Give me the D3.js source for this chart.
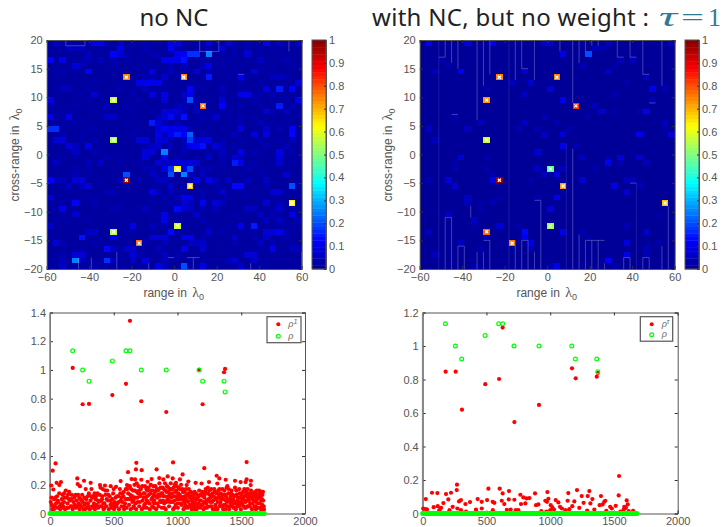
<!DOCTYPE html>
<html>
<head>
<meta charset="utf-8">
<script src="https://cdnjs.cloudflare.com/ajax/libs/d3/7.8.5/d3.min.js"></script>
<style>
  html, body { margin: 0; padding: 0; background: #fff; }
  text { font-family: "Liberation Sans", Arial, sans-serif; }
</style>
</head>
<body>
<div id="chart"></div>
<script>
'use strict';

// image cells: 40 x 40, the twelve targets are listed apart
var targets = [[12,6],[21,6],[24,11],[10,10],[10,17],[20,22],[12,24],[22,25],[38,28],[20,32],[10,33],[14,35]];
var noNcTargets = [0.75,0.74,0.77,0.57,0.55,0.62,0.98,0.68,0.63,0.58,0.55,0.77];
var withNcTargets = [0.75,0.75,0.83,0.73,0.58,0.47,0.98,0.72,0.68,0.53,0.78,0.76];

// per row: col, percent, col, percent ...  everything else sits on the base level
var noNcBase = 2;
var noNcRows = [
  [1,6,2,4,3,3,6,3,7,10,8,10,9,4,11,5,13,4,15,3,17,3,19,9,20,10,21,3,23,3,25,8,26,3,28,8,29,4,31,3,34,10,36,6,37,3,39,7],
  [3,5,4,5,5,5,8,3,11,10,13,3,15,4,19,12,20,4,23,3,25,4,27,8,29,3,31,4,33,3,35,3],
  [6,5,10,12,11,8,12,4,16,4,17,4,20,10,21,12,22,17,23,17,25,25,27,3,29,4,31,8,33,3,36,3],
  [0,12,2,10,5,4,6,5,8,5,10,4,12,3,14,3,18,10,19,10,20,10,21,14,24,3,28,3,33,6,37,4],
  [4,8,5,4,10,3,15,3,19,4,21,5,24,5,25,10,27,3,30,3,33,3,35,3,38,3],
  [1,3,2,3,6,12,16,10,19,6,21,3,23,8,25,3,29,3,32,8,34,3],
  [15,4,16,4,18,7,20,3,25,15,28,3,30,10,31,3,35,5,36,5,37,4],
  [7,3,14,10,15,10,16,10,17,10,18,4,25,3,30,4,33,3,39,8],
  [2,5,3,5,6,4,11,4,13,3,15,5,17,3,22,12,24,3,27,5,34,9,36,15,38,12],
  [5,3,7,8,13,3,16,10,18,10,21,7,22,10,27,4,30,10,31,10,33,4,35,4],
  [0,10,6,3,14,4,18,8,21,4,22,20,23,3,27,8,32,4,35,3,37,3,39,10],
  [0,4,4,3,9,5,12,4,18,3,20,5,21,5,23,4,27,12,30,4,33,3,36,15,38,4],
  [2,3,7,3,9,3,13,3,18,8,19,8,20,8,21,4,23,6,25,3,28,3,34,8,35,4,37,6],
  [0,10,3,10,9,6,10,6,13,3,17,5,18,7,19,13,20,5,21,14,24,4,26,7,30,4,32,3],
  [3,3,4,3,5,3,12,3,16,15,17,8,18,5,20,4,23,3,28,3,30,3,33,5,35,3,37,3],
  [0,17,1,17,6,3,7,3,14,3,17,8,18,12,19,10,20,10,21,10,22,4,25,3,30,9,34,7,36,4,38,12],
  [2,4,5,3,13,4,17,10,18,5,19,10,20,15,21,12,22,22,24,4,29,5,32,9,34,9,38,13],
  [1,8,2,8,5,3,7,4,14,8,15,8,17,8,18,8,19,4,21,5,22,18,23,8,24,8,25,10,27,4,30,3,33,4,36,3,38,5],
  [3,8,4,5,6,10,15,4,16,6,17,7,19,5,21,5,22,10,23,12,24,14,26,8,27,5,29,4,34,4,37,5],
  [4,6,7,4,15,8,16,8,18,25,21,4,25,3,27,6,30,10,32,4,36,10,38,4],
  [2,3,9,4,11,3,15,8,18,10,20,4,23,3,25,7,27,4,29,8,30,6,33,3,36,8],
  [1,6,6,5,8,6,11,3,14,3,17,8,18,6,19,6,20,8,21,8,22,8,23,8,27,4,29,15,30,10,32,3,36,7,38,3],
  [4,3,6,3,15,4,16,4,18,10,19,17,21,10,22,20,24,4,25,4,27,3,31,4,33,3],
  [4,4,6,3,12,20,16,6,17,4,19,20,21,25,22,6,24,6,30,3,33,3,37,8],
  [0,12,1,5,2,5,4,8,5,8,8,3,11,5,14,4,17,6,18,6,23,10,25,10,26,5,28,6,31,5,34,6],
  [3,6,5,6,6,8,12,3,16,3,19,7,21,3,26,4,29,13,30,13,34,4,38,20],
  [9,4,10,4,16,10,17,5,19,5,21,3,24,4,27,7,31,3,35,7,36,7],
  [0,8,6,3,18,4,20,5,21,10,22,10,24,3,28,3,33,3],
  [2,3,4,12,7,4,11,3,16,3,19,4,21,8,22,5,24,12,26,8,27,5,34,8,36,4],
  [1,3,2,10,10,4,11,3,15,5,20,13,21,7,22,6,24,4,26,5,31,6,32,5,35,3,36,7],
  [2,3,4,7,13,3,16,3,18,10,20,3,23,7,29,3,33,6,35,4,38,10],
  [1,3,6,3,12,3,18,10,24,4,30,3,34,6,36,6,39,4],
  [0,7,13,10,16,5,18,4,21,4,25,3,28,3,30,10,32,15,36,3,38,3],
  [6,6,7,6,12,3,19,13,20,4,25,7,27,4,31,3,34,8,35,8,36,10,37,4],
  [1,3,5,14,10,10,16,8,17,8,18,8,21,10,22,10,24,4,29,7,32,4,34,7,37,4],
  [1,8,2,3,7,3,15,4,18,5,22,6,23,5,24,7,29,4,33,6,35,4,38,3],
  [5,3,9,13,10,6,12,7,13,7,17,5,21,10,24,8,27,3,33,3,35,10,38,5,39,5],
  [2,4,4,8,5,8,11,3,13,8,14,4,18,6,20,4,31,8,32,8,35,3],
  [2,5,4,25,5,5,9,17,10,5,13,6,15,8,18,4,19,3,24,3,28,5,29,8,32,7],
  [2,7,4,3,7,4,9,3,15,3,17,10,18,5,21,20,24,10,30,7,33,3]
];

var withNcBase = 1;
var withNcRows = [
  [1,10,7,9,11,10,19,7,20,7,29,6,39,6],
  [27,5,28,4],
  [22,9,26,20],
  [3,3,31,4,33,5],
  [4,3,25,4,30,3],
  [2,5,6,10,16,7,29,6],
  [35,5],
  [14,5,17,7,32,3],
  [10,3,20,8,36,10,38,4],
  [16,6,30,4],
  [22,10,36,4],
  [27,5],
  [28,7,30,3,34,3,35,11],
  [5,4,19,4,26,3],
  [9,5,16,6,21,3,38,5],
  [1,6,7,5,15,4,18,3,23,3,38,3],
  [19,6,22,8,34,10,39,8],
  [2,5],
  [22,10,24,4],
  [18,7],
  [6,8,10,3,25,6,29,4,31,8,34,7],
  [5,3,29,10,31,4,35,5],
  [5,3,10,3,18,6,22,5,27,3],
  [11,3,19,6,21,10],
  [1,4,4,8,11,10,17,3,25,8,32,5,33,5],
  [5,8,30,10,34,4],
  [22,3,32,7],
  [7,6,12,3,18,3,21,10],
  [7,5,9,3,11,4],
  [9,3,20,8],
  [4,6,37,3],
  [8,6],
  [8,3,12,7,15,3,32,4],
  [1,5,16,13,22,10,25,3,35,7],
  [10,5,16,10,26,3],
  [6,6,17,9,32,9,37,3],
  [9,3,17,5,35,5],
  [2,5,32,10,35,4],
  [29,12],
  [8,4,20,3,21,10,30,3]
];

// faint seams in the images, col and row edges: x1, y1, x2, y2
var noNcSeams = [
  [3,0,3,1],[3,1,6,1],[6,0,6,1],[24,0,24,2],[24,2,27,2],[27,0,27,2],[38,0,38,2],[30,6,31,6],
  [5,38,5,40],[7,38,7,40],[11,37,11,40],[16,39,16,40],[19,38,20,38],[22,38,24,38],[23,38,23,40],[32,39,32,40],[40,37,40,40]
];
var withNcSeams = [
  [4,0,4,3],[3,3,4,3],[5,0,5,4],[6,0,6,5],[9,0,9,14],[10,0,10,8],[11,0,11,6],[15,0,15,7],[16,0,16,5],[16,5,17,5],
  [18,0,18,7],[22,0,22,2],[24,0,24,11],[25,0,25,4],[26,0,26,2],[27,0,27,1],[28,0,28,1],[31,0,31,3],[31,3,32,3],
  [33,0,33,3],[33,3,34,3],[35,0,35,6],[35,6,36,6],[38,0,38,8],[5,13,6,13],[36,11,37,11],
  [4,31,4,40],[5,31,5,40],[4,31,5,31],[6,36,6,40],[7,36,7,40],[6,36,7,36],[9,37,9,40],[10,37,10,40],
  [10,35,11,35],[11,35,11,40],[15,35,15,40],[16,35,16,40],[17,35,17,40],[16,35,17,35],[18,37,18,40],
  [19,28,19,40],[18,28,19,28],[24,19,24,40],[25,34,25,40],[26,35,26,40],[27,35,27,40],[28,35,28,40],[26,35,29,35],
  [29,39,29,40],[32,38,32,40],[33,38,33,40],[32,38,33,38],[35,38,35,40],[36,38,36,40],[35,38,36,38],
  [38,36,38,40],[39,29,39,40],[8,29,8,31],[33,25,34,25]
];
var withNcFaintSeams = [[3,0,3,40],[14,0,14,40],[23,18,23,40],[34,25,34,40]];

// lower scatter, index and value
var rhoOne = [
  [178,1.014],[256,0.761],[306,0.763],[489,0.825],[596,0.903],[627,1.342],[716,0.782],[912,0.707],[1169,1.0],[1197,0.761],[1365,0.984],[1373,1.007],
  [44,0.349],[21,0.298],[10,0.195],[26,0.167],[52,0.214],[86,0.219],[73,0.198],[214,0.244],[217,0.205],[235,0.19],[267,0.228],[319,0.214],[392,0.198],
  [431,0.195],[476,0.19],[518,0.186],[554,0.226],[612,0.288],[640,0.24],[604,0.198],[667,0.237],[677,0.353],[674,0.307],[719,0.302],[716,0.235],[836,0.307],
  [766,0.221],[797,0.24],[857,0.247],[889,0.237],[923,0.258],[965,0.356],[962,0.244],[988,0.214],[1040,0.272],[1019,0.237],[1085,0.223],[1072,0.198],[1142,0.214],
  [1189,0.209],[1210,0.316],[1247,0.219],[1307,0.263],[1328,0.244],[1312,0.209],[1378,0.235],[1391,0.19],[1451,0.228],[1495,0.219],[1534,0.219],[1542,0.358],[1542,0.237],[1576,0.228],[1574,0.198],
  [6,0.08],[14,0.06],[20,0.03],[31,0.1],[38,0.05],[47,0.07],[55,0.12],[60,0.04],[66,0.08],[72,0.14],[80,0.03],[84,0.06],[92,0.1],[98,0.13],[104,0.05],[110,0.08],[118,0.03],[124,0.16],[130,0.11],[137,0.07],[143,0.04],[150,0.15],[156,0.09],[163,0.05],[170,0.13],[177,0.03],[183,0.08],[190,0.11],[196,0.06],
  [203,0.04],[209,0.09],[220,0.13],[226,0.07],[232,0.03],[240,0.1],[246,0.05],[252,0.13],[258,0.08],[264,0.03],[272,0.06],[280,0.17],[285,0.1],[291,0.04],[298,0.07],[305,0.14],[312,0.03],[318,0.09],[325,0.17],[331,0.05],[338,0.12],[345,0.07],[352,0.03],[358,0.1],[365,0.06],[372,0.14],[378,0.04],[384,0.08],[390,0.13],[396,0.18],
  [402,0.05],[408,0.1],[414,0.17],[420,0.03],[427,0.07],[435,0.13],[441,0.05],[448,0.16],[455,0.09],[461,0.03],[468,0.12],[474,0.06],[482,0.04],[488,0.1],[495,0.14],[502,0.03],[508,0.08],[514,0.11],[521,0.05],[528,0.07],[535,0.12],[541,0.03],[548,0.17],[555,0.09],[562,0.05],[568,0.14],[575,0.12],[581,0.03],[588,0.07],[594,0.17],
  [601,0.04],[607,0.1],[613,0.14],[620,0.06],[626,0.19],[632,0.03],[638,0.12],[645,0.08],[651,0.16],[657,0.05],[663,0.2],[669,0.11],[676,0.03],[682,0.15],[688,0.08],[694,0.19],[700,0.05],[707,0.12],[713,0.17],[720,0.03],[726,0.09],[732,0.14],[739,0.06],[745,0.19],[751,0.11],[758,0.04],[764,0.16],[770,0.08],[776,0.13],[783,0.03],[790,0.2],[796,0.1],
  [802,0.05],[808,0.16],[814,0.13],[820,0.07],[827,0.19],[833,0.03],[840,0.11],[846,0.16],[852,0.05],[858,0.21],[864,0.09],[871,0.14],[877,0.04],[884,0.18],[890,0.12],[896,0.07],[902,0.21],[908,0.03],[915,0.15],[921,0.1],[928,0.18],[934,0.05],[940,0.13],[947,0.21],[953,0.08],[960,0.17],[966,0.03],[972,0.12],[978,0.2],[985,0.06],[991,0.16],[997,0.1],
  [1003,0.04],[1009,0.18],[1016,0.13],[1022,0.07],[1028,0.2],[1035,0.1],[1041,0.15],[1047,0.03],[1054,0.12],[1060,0.06],[1066,0.17],[1073,0.09],[1079,0.04],[1086,0.14],[1092,0.11],[1099,0.06],[1105,0.15],[1111,0.03],[1118,0.1],[1124,0.13],[1131,0.05],[1137,0.08],[1144,0.14],[1150,0.03],[1156,0.11],[1163,0.07],[1170,0.16],[1177,0.04],[1183,0.09],[1190,0.13],[1197,0.06],
  [1204,0.03],[1211,0.11],[1217,0.15],[1224,0.07],[1231,0.04],[1238,0.18],[1244,0.1],[1251,0.13],[1258,0.05],[1264,0.17],[1271,0.08],[1277,0.03],[1284,0.12],[1291,0.15],[1298,0.06],[1305,0.1],[1312,0.03],[1319,0.16],[1325,0.13],[1332,0.05],[1338,0.08],[1345,0.11],[1352,0.17],[1358,0.03],[1365,0.06],[1371,0.13],[1378,0.09],[1385,0.18],[1392,0.05],[1398,0.14],
  [1405,0.03],[1411,0.08],[1418,0.12],[1424,0.16],[1431,0.05],[1437,0.1],[1444,0.07],[1451,0.18],[1457,0.03],[1464,0.13],[1471,0.09],[1477,0.05],[1484,0.17],[1490,0.11],[1497,0.03],[1504,0.14],[1510,0.07],[1517,0.1],[1524,0.17],[1530,0.04],[1537,0.13],[1543,0.09],[1550,0.17],[1556,0.05],[1563,0.12],[1570,0.07],[1577,0.16],[1584,0.03],[1590,0.1],[1597,0.14],
  [1603,0.05],[1610,0.15],[1616,0.08],[1622,0.16],[1628,0.04],[1634,0.13],[1640,0.16],[1646,0.07],[1650,0.12],[1654,0.03],[1660,0.15],[1662,0.1],[1664,0.06],[1666,0.13],[1668,0.04],[1670,0.15],[1672,0.09],[1674,0.02],[1676,0.05],[1678,0.03],
  [110,0.14],[150,0.1],[195,0.12],[330,0.11],[410,0.12],[500,0.06],[560,0.11],[640,0.1],[700,0.14],[760,0.09],[810,0.08],[870,0.08],[930,0.09],[1000,0.12],[1060,0.1],[1120,0.07],[1200,0.12],[1270,0.13],[1340,0.14],[1420,0.07],[1500,0.08],[1560,0.09],[1620,0.11],
  [12,0.11],[24,0.05],[41,0.11],[58,0.09],[76,0.05],[96,0.07],[114,0.11],[133,0.04],[141,0.13],[167,0.1],[186,0.05],[201,0.13],[229,0.11],[238,0.06],[249,0.09],[269,0.11],[283,0.07],[295,0.12],[303,0.05],[322,0.12],[340,0.04],[349,0.14],[361,0.12],[375,0.09],[388,0.05],[399,0.09],[418,0.07],[433,0.16],[445,0.1],[458,0.13],[472,0.09],[486,0.07],[499,0.17],[512,0.05],[526,0.12],[539,0.08],[551,0.14],[566,0.08],[579,0.15],[592,0.1],
  [605,0.17],[618,0.1],[629,0.13],[636,0.17],[648,0.12],[655,0.09],[666,0.16],[671,0.07],[680,0.21],[685,0.11],[692,0.14],[698,0.16],[705,0.08],[711,0.13],[724,0.19],[735,0.11],[742,0.14],[749,0.07],[755,0.17],[762,0.12],[773,0.18],[780,0.07],[787,0.14],[793,0.16],[805,0.11],[811,0.19],[817,0.09],[824,0.15],[830,0.12],[837,0.17],[843,0.07],[849,0.13],[855,0.17],[861,0.12],[868,0.18],[874,0.08],[881,0.14],[887,0.09],[893,0.17],[899,0.12],[905,0.16],[912,0.08],[918,0.19],[925,0.12],[931,0.15],[937,0.08],[944,0.17],[950,0.11],[957,0.14],[963,0.08],[969,0.18],[975,0.09],[982,0.15],[988,0.12],[994,0.19],[1000,0.07],
  [1006,0.14],[1012,0.1],[1019,0.17],[1025,0.12],[1032,0.06],[1038,0.17],[1044,0.11],[1051,0.08],[1057,0.15],[1063,0.12],[1070,0.05],[1076,0.13],[1083,0.08],[1089,0.17],[1095,0.05],[1102,0.12],[1108,0.09],[1115,0.14],[1121,0.05],[1128,0.11],[1134,0.15],[1141,0.06],[1147,0.1],[1153,0.13],[1160,0.05],[1167,0.12],[1173,0.09],[1180,0.13],[1186,0.06],[1193,0.15],[1207,0.08],[1214,0.13],[1221,0.17],[1228,0.09],[1235,0.05],[1241,0.14],[1248,0.16],[1255,0.08],[1261,0.11],[1268,0.05],[1274,0.14],[1281,0.09],[1288,0.17],[1295,0.11],[1301,0.04],[1308,0.14],[1315,0.08],[1322,0.11],[1329,0.17],[1335,0.06],[1342,0.1],[1349,0.05],[1355,0.13],[1362,0.1],[1368,0.16],[1375,0.06],[1381,0.12],[1388,0.08],[1395,0.1],
  [1402,0.17],[1408,0.05],[1415,0.1],[1421,0.14],[1428,0.08],[1434,0.13],[1441,0.04],[1448,0.12],[1454,0.08],[1461,0.16],[1468,0.06],[1474,0.11],[1481,0.08],[1487,0.14],[1494,0.06],[1501,0.12],[1507,0.1],[1514,0.15],[1520,0.05],[1527,0.12],[1534,0.08],[1540,0.15],[1547,0.05],[1553,0.11],[1560,0.14],[1566,0.05],[1573,0.11],[1580,0.14],[1587,0.07],[1593,0.12],[1600,0.09],[1606,0.12],[1613,0.05],[1619,0.13],[1625,0.1],[1631,0.07],[1637,0.11],[1643,0.14],[1648,0.04],[1657,0.09],
  [30,0.03],[90,0.04],[170,0.05],[215,0.05],[275,0.03],[355,0.05],[425,0.04],[505,0.04],[585,0.05],[655,0.04],[735,0.04],[815,0.04],[895,0.04],[975,0.04],[1055,0.04],[1135,0.03],[1215,0.04],[1295,0.03],[1375,0.03],[1455,0.04],[1535,0.04],[1615,0.03]
];
var rhoTau = [
  [180,0.847],[259,0.847],[308,0.62],[491,0.772],[599,0.803],[627,1.11],[719,0.546],[912,0.648],[1171,0.867],[1200,0.807],[1365,0.817],[1375,0.84],
  [24,0.086],[4,0.03],[24,0.026],[34,0.024],[73,0.124],[115,0.122],[86,0.038],[118,0.044],[144,0.034],[162,0.062],[183,0.116],[201,0.084],[222,0.124],[235,0.04],[267,0.14],[269,0.172],[272,0.03],[285,0.072],[300,0.08],[335,0.056],[371,0.068],[418,0.024],[431,0.086],[463,0.07],[463,0.03],[505,0.08],[515,0.148],[604,0.148],[562,0.064],[549,0.07],[627,0.12],[620,0.076],[640,0.056],[677,0.134],[675,0.084],[719,0.082],[766,0.112],[789,0.096],[771,0.056],[813,0.09],[837,0.092],[805,0.06],[881,0.12],[889,0.05],[907,0.054],[978,0.128],[986,0.088],[962,0.076],[975,0.07],[1004,0.05],[1017,0.036],[1030,0.024],[1043,0.08],[1064,0.066],[1077,0.04],[1092,0.03],[1137,0.076],[1142,0.122],[1189,0.072],[1173,0.044],[1210,0.14],[1228,0.034],[1247,0.104],[1262,0.064],[1294,0.104],[1307,0.134],[1331,0.086],[1315,0.06],[1346,0.024],[1398,0.104],[1388,0.05],[1411,0.054],[1424,0.07],[1432,0.076],[1470,0.04],[1483,0.03],[1514,0.046],[1540,0.224],[1537,0.108],[1600,0.078],[1608,0.054],[1581,0.04],[1594,0.034],[1576,0.024],[1616,0.014],[1650,0.016],[300,0.02],[210,0.02],[130,0.02],[340,0.012],[420,0.012],[550,0.02],[660,0.022],[690,0.024],[730,0.02],[750,0.02],[930,0.014],[970,0.012],[1000,0.02],[1120,0.02],[1150,0.026],[1290,0.018],[1440,0.016],[1550,0.012]
];
var rhoTrueX = [178,256,306,489,596,627,716,912,1169,1197,1365,1373];
var rhoTrueY = [1.133,1.0,0.922,1.063,1.133,1.133,1.0,1.0,1.0,0.922,0.922,0.847];
// the rest of the true scene is empty, marked along the bottom
var rhoZeroX = [0,10,20,30,40,50,60,70,80,90,100,110,120,130,140,150,160,170,180,190,200,210,220,230,240,250,260,270,280,290,300,310,320,330,340,350,360,370,380,390,400,410,420,430,440,450,460,470,480,490,500,510,520,530,540,550,560,570,580,590,600,610,620,630,640,650,660,670,680,690,700,710,720,730,740,750,760,770,780,790,800,810,820,830,840,850,860,870,880,890,900,910,920,930,940,950,960,970,980,990,1000,1010,1020,1030,1040,1050,1060,1070,1080,1090,1100,1110,1120,1130,1140,1150,1160,1170,1180,1190,1200,1210,1220,1230,1240,1250,1260,1270,1280,1290,1300,1310,1320,1330,1340,1350,1360,1370,1380,1390,1400,1410,1420,1430,1440,1450,1460,1470,1480,1490,1500,1510,1520,1530,1540,1550,1560,1570,1580,1590,1600,1610,1620,1630,1640,1650,1660,1670,1680];

var heatXTicks = [-60,-40,-20,0,20,40,60];
var heatYTicks = [-20,-15,-10,-5,0,5,10,15,20];
var barTicks = [0,0.1,0.2,0.3,0.4,0.5,0.6,0.7,0.8,0.9,1];
var scatterXTicks = [0,500,1000,1500,2000];
var leftYTicks = [0,0.2,0.4,0.6,0.8,1,1.2,1.4];
var rightYTicks = [0,0.2,0.4,0.6,0.8,1,1.2];

var jet = d3.scaleLinear()
  .domain([0,0.125,0.375,0.625,0.875,1])
  .range(['#00008f','#0000ff','#00ffff','#ffff00','#ff0000','#800000']);

var svg = d3.select('#chart').append('svg')
  .attr('width', 722)
  .attr('height', 527)
  .style('display', 'block');

var axisColor = '#555';

function styleAxis(g) {
  g.selectAll('path').attr('stroke', axisColor).attr('stroke-width', 1);
  g.selectAll('line').attr('stroke', '#333').attr('stroke-width', 1);
  g.selectAll('text').attr('fill', '#555').attr('font-size', 11).style('font-family', '"Liberation Sans", Arial, sans-serif');
}

function box(xScale, yScale, xTicks, yTicks, xFmt, yFmt) {
  var r = xScale.range(), t = yScale.range();
  svg.append('g').attr('transform', 'translate(0,' + t[0] + ')')
    .call(d3.axisBottom(xScale).tickValues(xTicks).tickSize(-3).tickPadding(4).tickFormat(xFmt)).call(styleAxis);
  svg.append('g').attr('transform', 'translate(' + r[0] + ',0)')
    .call(d3.axisLeft(yScale).tickValues(yTicks).tickSize(-3).tickPadding(4).tickFormat(yFmt)).call(styleAxis);
  svg.append('g').attr('transform', 'translate(0,' + t[1] + ')')
    .call(d3.axisTop(xScale).tickValues(xTicks).tickSize(-3).tickFormat('')).call(styleAxis);
  svg.append('g').attr('transform', 'translate(' + r[1] + ',0)')
    .call(d3.axisRight(yScale).tickValues(yTicks).tickSize(-3).tickFormat('')).call(styleAxis);
}

function lambdaLabel(sel, size) {
  sel.append('tspan').attr('font-family', '"Liberation Serif", serif').attr('font-size', size + 2).attr('dx', 2).text('\u03bb');
  sel.append('tspan').attr('font-size', size - 3).attr('dy', 3).text('0');
}

function heatPanel(x0, barX, rows, base, targetVals, seams, faint) {
  var y0 = 40, y1 = 269;
  var cols = d3.scaleBand().domain(d3.range(40)).range([x0, x0 + 255]);
  var lines = d3.scaleBand().domain(d3.range(40)).range([y0, y1]);
  var colEdge = d3.scaleLinear().domain([0, 40]).range([x0, x0 + 255]);
  var rowEdge = d3.scaleLinear().domain([0, 40]).range([y0, y1]);
  var xScale = d3.scaleLinear().domain([-60, 60]).range([x0, x0 + 255]);
  var yScale = d3.scaleLinear().domain([-20, 20]).range([y1, y0]);

  var cells = [];
  rows.forEach(function(row, r) {
    var vals = d3.range(40).map(function() { return base; });
    for (var i = 0; i < row.length; i += 2) vals[row[i]] = row[i + 1];
    vals.forEach(function(v, c) { cells.push({c: c, r: r, v: v / 100}); });
  });
  targets.forEach(function(t, i) {
    cells.filter(function(d) { return d.c === t[0] && d.r === t[1]; })[0].v = targetVals[i];
  });

  svg.append('g').attr('shape-rendering', 'crispEdges').selectAll('rect').data(cells).enter().append('rect')
    .attr('x', function(d) { return cols(d.c); })
    .attr('y', function(d) { return lines(d.r); })
    .attr('width', cols.bandwidth() + 0.5)
    .attr('height', lines.bandwidth() + 0.5)
    .attr('fill', function(d) { return jet(d.v); });

  function seamLines(data, color, w) {
    svg.append('g').selectAll('line').data(data).enter().append('line')
      .attr('x1', function(d) { return colEdge(d[0]); })
      .attr('y1', function(d) { return rowEdge(d[1]); })
      .attr('x2', function(d) { return colEdge(d[2]); })
      .attr('y2', function(d) { return rowEdge(d[3]); })
      .attr('stroke', color)
      .attr('stroke-width', w);
  }
  seamLines(faint, 'rgba(120,120,210,0.3)', 0.7);
  seamLines(seams, 'rgba(165,165,225,0.55)', 0.7);

  // target marks
  svg.append('g').selectAll('path').data(targets).enter().append('path')
    .attr('transform', function(d) {
      return 'translate(' + (cols(d[0]) + cols.bandwidth() / 2) + ',' + (lines(d[1]) + lines.bandwidth() / 2) + ')';
    })
    .attr('d', d3.symbol().type(d3.symbolX).size(7))
    .attr('fill', 'none')
    .attr('stroke', '#fff')
    .attr('stroke-width', 1.2);

  box(xScale, yScale, heatXTicks, heatYTicks, d3.format('d'), d3.format('d'));

  // colour bar
  var barY = d3.scaleLinear().domain([0, 1]).range([y1, y0]);
  var steps = d3.range(64);
  svg.append('g').selectAll('rect').data(steps).enter().append('rect')
    .attr('x', barX)
    .attr('width', 14)
    .attr('y', function(d) { return barY((d + 1) / 64); })
    .attr('height', (y1 - y0) / 64 + 0.4)
    .attr('fill', function(d) { return jet((d + 0.5) / 64); });
  var barFmt = function(d) { return d3.format('~g')(d); };
  svg.append('rect').attr('x', barX).attr('y', y0).attr('width', 14).attr('height', y1 - y0)
    .attr('fill', 'none').attr('stroke', axisColor);
  svg.append('g').attr('transform', 'translate(' + (barX + 14) + ',0)')
    .call(d3.axisRight(barY).tickValues(barTicks).tickSize(-2).tickPadding(3).tickFormat(barFmt)).call(styleAxis);

  // labels
  var xl = svg.append('text').attr('x', x0 + 127).attr('y', 297).attr('text-anchor', 'middle')
    .attr('fill', '#555').attr('font-size', 12).text('range in ');
  lambdaLabel(xl, 12);
  var yl = svg.append('text').attr('transform', 'translate(' + (x0 - 28) + ',155) rotate(-90)').attr('text-anchor', 'middle')
    .attr('fill', '#555').attr('font-size', 12).text('cross-range in ');
  lambdaLabel(yl, 12);
}

function scatterPanel(x0, yMax, yTicks, red, legend) {
  var xScale = d3.scaleLinear().domain([0, 2000]).range([x0, x0 + 255]);
  var yScale = d3.scaleLinear().domain([0, yMax]).range([513.5, 312.5]);

  box(xScale, yScale, scatterXTicks, yTicks, d3.format('d'), d3.format('~g'));
  svg.append('line').attr('x1', x0).attr('x2', x0).attr('y1', 312.5).attr('y2', 513.5)
    .attr('stroke', '#888').attr('stroke-width', 1.6);

  svg.append('g').selectAll('circle').data(red).enter().append('circle')
    .attr('cx', function(d) { return xScale(d[0]); })
    .attr('cy', function(d) { return yScale(d[1]); })
    .attr('r', 2.1)
    .attr('fill', '#ff0000');

  svg.append('g').selectAll('circle').data(rhoTrueX).enter().append('circle')
    .attr('cx', function(d) { return xScale(d); })
    .attr('cy', function(d, i) { return yScale(rhoTrueY[i]); })
    .attr('r', 1.9)
    .attr('fill', 'none')
    .attr('stroke', '#00ff00')
    .attr('stroke-width', 1.2);

  svg.append('g').selectAll('circle').data(rhoZeroX).enter().append('circle')
    .attr('cx', function(d) { return xScale(d); })
    .attr('cy', yScale(0))
    .attr('r', 1.9)
    .attr('fill', '#00ff00')
    .attr('stroke', '#00ff00')
    .attr('stroke-width', 1.2);

  // legend
  svg.append('rect').attr('x', legend.x).attr('y', legend.y).attr('width', legend.w).attr('height', legend.h)
    .attr('fill', '#fff').attr('stroke', '#555').attr('stroke-width', 1.2);
  svg.append('circle').attr('cx', legend.mx).attr('cy', legend.y + 7.5).attr('r', 2).attr('fill', '#ff0000');
  svg.append('circle').attr('cx', legend.mx).attr('cy', legend.y + legend.h - 6.5).attr('r', 1.9)
    .attr('fill', 'none').attr('stroke', '#00ff00').attr('stroke-width', 1.2);
  var t1 = svg.append('text').attr('x', legend.mx + 10).attr('y', legend.y + 10).attr('fill', '#666')
    .attr('font-size', 9).attr('font-family', '"Liberation Serif", serif').attr('font-style', 'italic').text('\u03c1');
  t1.append('tspan').attr('dy', -3).attr('font-size', 7).text(legend.sup);
  svg.append('text').attr('x', legend.mx + 10).attr('y', legend.y + legend.h - 4).attr('fill', '#666')
    .attr('font-size', 9).attr('font-family', '"Liberation Serif", serif').attr('font-style', 'italic').text('\u03c1');
}

heatPanel(46.7, 312, noNcRows, noNcBase, noNcTargets, noNcSeams, []);
heatPanel(419.7, 685, withNcRows, withNcBase, withNcTargets, withNcSeams, withNcFaintSeams);
scatterPanel(50, 1.4, leftYTicks, rhoOne, {x: 267, y: 316.7, w: 34, h: 26, mx: 278.3, sup: '1'});
scatterPanel(422.7, 1.2, rightYTicks, rhoTau, {x: 640.3, y: 316.7, w: 32.4, h: 24.5, mx: 651.7, sup: '\u03c4'});

// titles
svg.append('text').attr('x', 174).attr('y', 26).attr('text-anchor', 'middle')
  .style('font-family', '"Noto Sans", sans-serif').attr('font-size', 24).attr('fill', '#222').text('no NC');
svg.append('text').attr('x', 372).attr('y', 26)
  .style('font-family', '"Noto Sans", sans-serif').attr('font-size', 24).attr('fill', '#222').attr('textLength', 277).text('with NC, but no weight :');
var tauColor = '#2f7a96';
svg.append('text').attr('x', 659).attr('y', 26).style('font-family', '"Liberation Serif", serif').attr('font-style', 'italic')
  .attr('font-size', 28).attr('fill', tauColor).attr('textLength', 18).attr('lengthAdjust', 'spacingAndGlyphs').text('\u03c4');
svg.append('text').attr('x', 681).attr('y', 26).style('font-family', '"Liberation Serif", serif')
  .attr('font-size', 26).attr('fill', tauColor).attr('textLength', 23).attr('lengthAdjust', 'spacingAndGlyphs').text('=');
svg.append('text').attr('x', 708).attr('y', 26).style('font-family', '"Liberation Serif", serif')
  .attr('font-size', 26).attr('fill', tauColor).text('1');
</script>
</body>
</html>
